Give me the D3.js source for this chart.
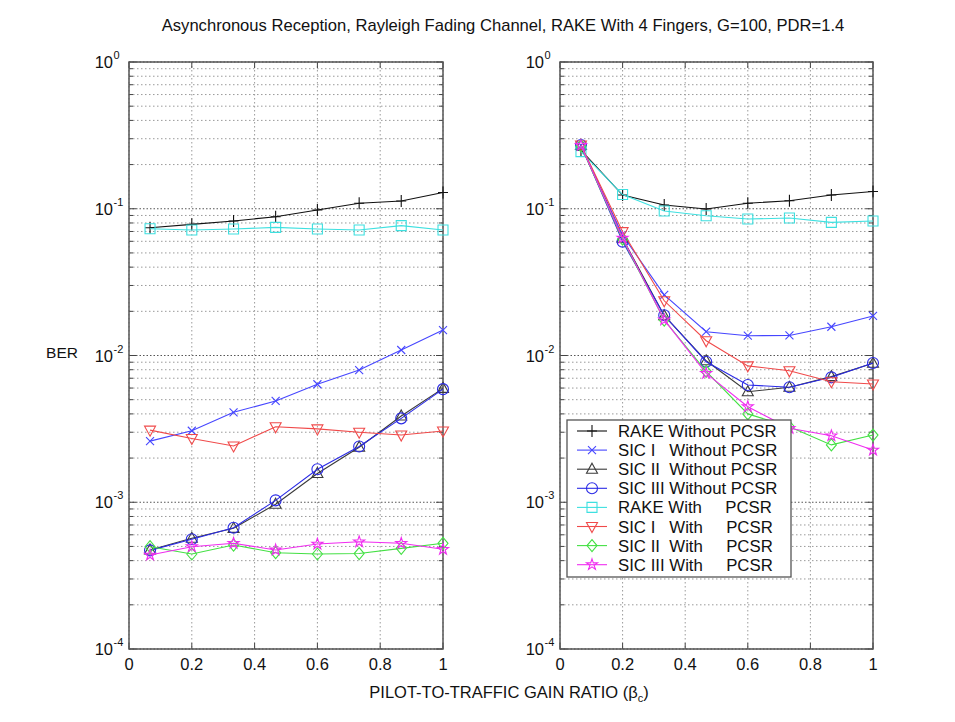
<!DOCTYPE html>
<html>
<head>
<meta charset="utf-8">
<script src="https://cdn.jsdelivr.net/npm/d3@7"></script>
<style>
  body { margin: 0; background: #fff; }
  svg { font-family: Arial, "Liberation Sans", Helvetica, sans-serif; }
</style>
</head>
<body>
<svg id="chart" width="955" height="722"></svg>
<script>
// data
var xValues = [0.067, 0.2, 0.333, 0.467, 0.6, 0.733, 0.867, 1.0];

var seriesNames = [
  'RAKE Without PCSR',
  'SIC I   Without PCSR',
  'SIC II  Without PCSR',
  'SIC III Without PCSR',
  'RAKE With     PCSR',
  'SIC I   With     PCSR',
  'SIC II  With     PCSR',
  'SIC III With     PCSR'
];

// left panel
var leftRakeNo   = [0.0743, 0.0783, 0.0825, 0.0883, 0.098, 0.109, 0.113, 0.129];
var leftSic1No   = [2.61e-3, 3.07e-3, 4.1e-3, 4.9e-3, 6.37e-3, 7.96e-3, 1.09e-2, 1.49e-2];
var leftSic2No   = [4.73e-4, 5.68e-4, 6.64e-4, 9.7e-4, 1.57e-3, 2.37e-3, 3.87e-3, 5.97e-3];
var leftSic3No   = [4.7e-4, 5.6e-4, 6.7e-4, 1.03e-3, 1.68e-3, 2.4e-3, 3.73e-3, 5.9e-3];
var leftRakeWith = [0.0731, 0.0717, 0.0727, 0.0747, 0.0727, 0.0717, 0.0767, 0.0717];
var leftSic1With = [3.1e-3, 2.72e-3, 2.42e-3, 3.27e-3, 3.16e-3, 3.0e-3, 2.87e-3, 3.06e-3];
var leftSic2With = [4.98e-4, 4.44e-4, 5.11e-4, 4.53e-4, 4.44e-4, 4.47e-4, 4.85e-4, 5.25e-4];
var leftSic3With = [4.37e-4, 4.98e-4, 5.25e-4, 4.73e-4, 5.19e-4, 5.38e-4, 5.25e-4, 4.78e-4];

// right panel
var rightRakeNo   = [0.251, 0.124, 0.106, 0.0996, 0.109, 0.1135, 0.124, 0.131];
var rightSic1No   = [0.27, 0.066, 0.0259, 0.01453, 0.01364, 0.0137, 0.0157, 0.0186];
var rightSic2No   = [0.27, 0.0629, 0.01867, 0.0092, 0.00566, 0.00607, 0.00718, 0.00885];
var rightSic3No   = [0.272, 0.0597, 0.0188, 0.00907, 0.0063, 0.00607, 0.0071, 0.0089];
var rightRakeWith = [0.245, 0.125, 0.0966, 0.0897, 0.0851, 0.0865, 0.0808, 0.0825];
var rightSic1With = [0.272, 0.0698, 0.0236, 0.0126, 0.0085, 0.00787, 0.00663, 0.0064];
var rightSic2With = [0.268, 0.062, 0.01745, 0.0078, 0.004, 0.00327, 0.00246, 0.00287];
var rightSic3With = [0.27, 0.063, 0.0175, 0.00755, 0.00448, 0.00319, 0.00284, 0.00227];

var xTicks = [0, 0.2, 0.4, 0.6, 0.8, 1];
var yDecades = [-4, -3, -2, -1, 0];

var styles = [
  { color: '#111111', marker: 'plus' },
  { color: '#4646ff', marker: 'cross' },
  { color: '#3a3a3a', marker: 'triUp' },
  { color: '#2a2ae6', marker: 'circle' },
  { color: '#3ee0e0', marker: 'square' },
  { color: '#f04a4a', marker: 'triDown' },
  { color: '#44e044', marker: 'diamond' },
  { color: '#f02cf0', marker: 'star' }
];

var svg = d3.select('#chart');

function markerPath(type) {
  var p = d3.path();
  if (type === 'plus') {
    p.moveTo(-5, 0); p.lineTo(5, 0); p.moveTo(0, -6); p.lineTo(0, 6);
    return p.toString();
  }
  if (type === 'cross') {
    p.moveTo(-4, -4); p.lineTo(4, 4); p.moveTo(-4, 4); p.lineTo(4, -4);
    return p.toString();
  }
  if (type === 'triUp') return 'M0,-6L5.5,4L-5.5,4Z';
  if (type === 'triDown') return 'M0,6L5.5,-4L-5.5,-4Z';
  if (type === 'square') return 'M-5,-5H5V5H-5Z';
  if (type === 'diamond') return 'M0,-6L5,0L0,6L-5,0Z';
  if (type === 'circle') {
    p.arc(0, 0, 5.5, 0, 2 * Math.PI); p.closePath();
    return p.toString();
  }
  if (type === 'star') return d3.symbol(d3.symbolStar, 38)();
  return '';
}

function drawPanel(left, right, top, bottom, series) {
  var x = d3.scaleLinear().domain([0, 1]).range([left, right]);
  var y = d3.scaleLog().domain([1e-4, 1]).range([bottom, top]);
  var g = svg.append('g');

  // minor values per decade
  var minor = [];
  for (var e = -4; e < 0; e++) {
    for (var m = 2; m <= 9; m++) minor.push(m * Math.pow(10, e));
  }
  var majors = yDecades.map(function(d) { return Math.pow(10, d); });

  // grid
  g.selectAll('.ygrid-minor').data(minor).enter().append('line')
    .attr('x1', left).attr('x2', right)
    .attr('y1', d => y(d)).attr('y2', d => y(d))
    .attr('stroke', '#9a9a9a').attr('stroke-width', 1)
    .attr('stroke-dasharray', '1.5,2.5');
  g.selectAll('.ygrid-major').data(majors).enter().append('line')
    .attr('x1', left).attr('x2', right)
    .attr('y1', d => y(d)).attr('y2', d => y(d))
    .attr('stroke', '#555').attr('stroke-width', 1)
    .attr('stroke-dasharray', '1.5,2');
  g.selectAll('.xgrid').data(xTicks).enter().append('line')
    .attr('x1', d => x(d)).attr('x2', d => x(d))
    .attr('y1', top).attr('y2', bottom)
    .attr('stroke', '#9a9a9a').attr('stroke-width', 1)
    .attr('stroke-dasharray', '1.5,2.5');

  // ticks (inward, both sides)
  g.selectAll('.xt').data(xTicks).enter().append('path')
    .attr('d', d => 'M' + x(d) + ',' + bottom + 'v-6M' + x(d) + ',' + top + 'v6')
    .attr('stroke', '#444').attr('stroke-width', 1);
  g.selectAll('.ytm').data(majors).enter().append('path')
    .attr('d', d => 'M' + left + ',' + y(d) + 'h7M' + right + ',' + y(d) + 'h-7')
    .attr('stroke', '#444').attr('stroke-width', 1);
  g.selectAll('.ytn').data(minor).enter().append('path')
    .attr('d', d => 'M' + left + ',' + y(d) + 'h4M' + right + ',' + y(d) + 'h-4')
    .attr('stroke', '#444').attr('stroke-width', 1);

  // frame
  g.append('rect')
    .attr('x', left).attr('y', top)
    .attr('width', right - left).attr('height', bottom - top)
    .attr('fill', 'none').attr('stroke', '#555').attr('stroke-width', 1.5);

  // tick labels
  g.selectAll('.xl').data(xTicks).enter().append('text')
    .attr('x', d => x(d)).attr('y', bottom + 21)
    .attr('text-anchor', 'middle').attr('font-size', 16.5).attr('fill', '#111')
    .text(d => d3.format('~g')(d));
  g.selectAll('.yl').data(yDecades).enter().append('text')
    .attr('x', left - 16).attr('y', d => y(Math.pow(10, d)) + 6)
    .attr('text-anchor', 'end').attr('font-size', 16.5).attr('fill', '#111')
    .text('10');
  g.selectAll('.ye').data(yDecades).enter().append('text')
    .attr('x', left - 15.5).attr('y', d => y(Math.pow(10, d)) - 3)
    .attr('font-size', 11).attr('fill', '#111')
    .text(d => d === 0 ? '0' : String(d));

  // series
  var line = d3.line().x((d, i) => x(xValues[i])).y(d => y(d));
  series.forEach(function(vals, k) {
    var st = styles[k];
    g.append('path')
      .attr('d', line(vals))
      .attr('fill', 'none').attr('stroke', st.color).attr('stroke-width', 1.1);
    g.selectAll('.m' + k).data(vals).enter().append('path')
      .attr('transform', (d, i) => 'translate(' + x(xValues[i]) + ',' + y(d) + ')')
      .attr('d', markerPath(st.marker))
      .attr('fill', 'none').attr('stroke', st.color).attr('stroke-width', 1.1);
  });
}

drawPanel(129, 443, 62, 649, [leftRakeNo, leftSic1No, leftSic2No, leftSic3No,
  leftRakeWith, leftSic1With, leftSic2With, leftSic3With]);
drawPanel(560, 873, 62, 649, [rightRakeNo, rightSic1No, rightSic2No, rightSic3No,
  rightRakeWith, rightSic1With, rightSic2With, rightSic3With]);

// legend
var lg = svg.append('g');
lg.append('rect')
  .attr('x', 567).attr('y', 420).attr('width', 224).attr('height', 157)
  .attr('fill', '#fff').attr('stroke', '#555').attr('stroke-width', 1.3);
seriesNames.forEach(function(name, k) {
  var yy = 431 + k * 19.1;
  var st = styles[k];
  lg.append('line')
    .attr('x1', 577).attr('x2', 607).attr('y1', yy).attr('y2', yy)
    .attr('stroke', st.color).attr('stroke-width', 1.1);
  lg.append('path')
    .attr('transform', 'translate(592,' + yy + ')')
    .attr('d', markerPath(st.marker))
    .attr('fill', 'none').attr('stroke', st.color).attr('stroke-width', 1.1);
  lg.append('text')
    .attr('x', 618).attr('y', yy + 6)
    .attr('font-size', 16.8).attr('fill', '#111')
    .attr('xml:space', 'preserve').style('white-space', 'pre')
    .text(name);
});

// titles
svg.append('text')
  .attr('x', 503).attr('y', 31)
  .attr('text-anchor', 'middle').attr('font-size', 16.6).attr('fill', '#111')
  .text('Asynchronous Reception, Rayleigh Fading Channel, RAKE With 4 Fingers, G=100, PDR=1.4');

svg.append('text')
  .attr('x', 62).attr('y', 358)
  .attr('text-anchor', 'middle').attr('font-size', 15.5).attr('fill', '#111')
  .text('BER');

var xl = svg.append('text')
  .attr('x', 509).attr('y', 698)
  .attr('text-anchor', 'middle').attr('font-size', 16.5).attr('fill', '#111');
xl.append('tspan').text('PILOT-TO-TRAFFIC GAIN RATIO (β');
xl.append('tspan').attr('font-size', 11).attr('dy', 4).text('c');
xl.append('tspan').attr('dy', -4).text(')');
</script>
</body>
</html>
